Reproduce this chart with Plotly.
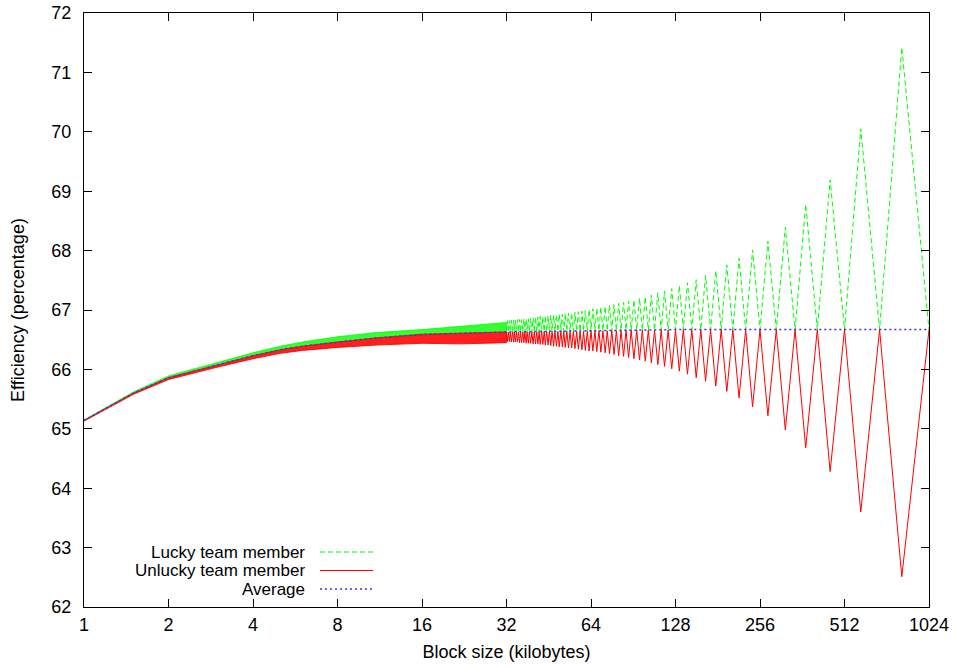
import plotly.graph_objects as go

# ---------------- data ----------------
tick_vals = [1, 2, 4, 8, 16, 32, 64, 128, 256, 512, 1024]
tick_text = ["1", "2", "4", "8", "16", "32", "64", "128", "256", "512", "1024"]

# dense region (1..32 KB): the teeth merge into a band; envelope
band_x = [1, 1.5, 2, 3, 4, 5, 6, 8, 11, 16, 22, 32]
band_avg = [65.14, 65.60, 65.86, 66.08, 66.23, 66.33, 66.39, 66.46, 66.53, 66.59, 66.61, 66.63]
band_upper = [65.15, 65.62, 65.89, 66.12, 66.28, 66.39, 66.46, 66.55, 66.62, 66.67, 66.72, 66.79]
band_lower = [65.13, 65.58, 65.83, 66.04, 66.18, 66.27, 66.32, 66.37, 66.41, 66.44, 66.43, 66.45]

# sparse region (32..1024 KB): points where lucky and unlucky meet the average
meet_x = [32, 32.5, 33.0, 33.6, 34.1, 34.7, 35.3, 35.9, 36.6, 37.2, 37.9, 38.6, 39.4, 40.2,
          41.0, 41.8, 42.7, 43.6, 44.5, 45.5, 46.5, 47.6, 48.8, 50.0, 51.2, 52.5, 53.9, 55.4,
          56.9, 58.5, 60.2, 62.1, 64, 66.1, 68.3, 70.6, 73.1, 75.9, 78.8, 81.9, 85.3, 89.0,
          93.1, 97.5, 102.4, 107.8, 113.8, 120.5, 128, 136.5, 146.3, 157.5, 170.7, 186.2,
          204.8, 227.6, 256, 292.6, 341.3, 409.6, 512, 682.7, 1024]
meet_y = [66.63, 66.63, 66.63, 66.63, 66.63, 66.63, 66.63, 66.63, 66.63, 66.63, 66.63, 66.63,
          66.63, 66.63, 66.63, 66.63, 66.64, 66.64, 66.64, 66.64, 66.64, 66.64, 66.64, 66.64,
          66.64, 66.64, 66.64, 66.64, 66.64, 66.64, 66.64, 66.64, 66.65, 66.65, 66.65, 66.65,
          66.65, 66.65, 66.65, 66.65, 66.66, 66.66, 66.66, 66.66, 66.66, 66.66, 66.66, 66.66,
          66.67, 66.67, 66.67, 66.67, 66.67, 66.67, 66.67, 66.67, 66.67, 66.67, 66.67, 66.67,
          66.67, 66.67, 66.67]
# tooth tips between consecutive meeting points
peak_x = [32.3, 32.8, 33.3, 33.9, 34.4, 35.0, 35.6, 36.2, 36.9, 37.6, 38.3, 39.0, 39.8, 40.6,
          41.4, 42.2, 43.1, 44.0, 45.0, 46.0, 47.1, 48.2, 49.3, 50.6, 51.8, 53.2, 54.6, 56.1,
          57.7, 59.4, 61.1, 63.0, 65.0, 67.1, 69.4, 71.9, 74.5, 77.3, 80.3, 83.6, 87.1, 91.0,
          95.3, 99.9, 105.0, 110.7, 117.0, 124.1, 132.1, 141.2, 151.7, 163.8, 178.1, 195.0,
          215.6, 240.9, 273.1, 315.1, 372.4, 455.1, 585.1, 819.2]
lucky_peak = [66.82, 66.82, 66.83, 66.83, 66.83, 66.84, 66.84, 66.84, 66.85, 66.85, 66.85,
              66.86, 66.87, 66.88, 66.88, 66.89, 66.89, 66.90, 66.90, 66.91, 66.91, 66.92,
              66.93, 66.93, 66.94, 66.95, 66.95, 66.96, 66.97, 66.98, 66.99, 67.01, 67.02,
              67.03, 67.05, 67.06, 67.08, 67.09, 67.11, 67.13, 67.15, 67.17, 67.20, 67.22,
              67.25, 67.29, 67.32, 67.36, 67.41, 67.46, 67.51, 67.58, 67.66, 67.76, 67.87,
              68.01, 68.16, 68.39, 68.78, 69.19, 70.05, 71.42]
unlucky_trough = [66.47, 66.47, 66.46, 66.46, 66.46, 66.46, 66.45, 66.45, 66.45, 66.44, 66.44,
                  66.44, 66.43, 66.43, 66.43, 66.42, 66.42, 66.41, 66.41, 66.40, 66.39, 66.39,
                  66.38, 66.38, 66.37, 66.36, 66.36, 66.35, 66.34, 66.33, 66.32, 66.31, 66.31,
                  66.30, 66.29, 66.28, 66.26, 66.25, 66.23, 66.22, 66.20, 66.18, 66.16, 66.14,
                  66.11, 66.08, 66.05, 66.01, 65.97, 65.92, 65.86, 65.80, 65.72, 65.63, 65.52,
                  65.37, 65.22, 64.98, 64.68, 64.28, 63.60, 62.51]

avg_tail_x = [64, 128, 1024]
avg_tail_y = [66.65, 66.67, 66.67]

legend_labels = ["Lucky team member", "Unlucky team member", "Average"]

# ---------------- assemble ----------------
GREEN = "#00ff00"
RED = "#ff0000"
BLUE = "#3333ff"
FONT = "Liberation Sans, Arial, Helvetica, sans-serif"

lucky_x, lucky_y, unl_x, unl_y = [], [], [], []
for i in range(len(peak_x)):
    lucky_x += [meet_x[i], peak_x[i]]
    lucky_y += [meet_y[i], lucky_peak[i]]
    unl_x += [meet_x[i], peak_x[i]]
    unl_y += [meet_y[i], unlucky_trough[i]]
lucky_x.append(meet_x[-1]); lucky_y.append(meet_y[-1])
unl_x.append(meet_x[-1]); unl_y.append(meet_y[-1])

fig = go.Figure()

# dense band: lucky part above the average, unlucky part below
fig.add_trace(go.Scatter(
    x=band_x + band_x[::-1], y=band_upper + band_avg[::-1],
    fill="toself", fillcolor="rgba(0,255,0,0.8)", mode="lines",
    line=dict(color="rgba(0,255,0,0.8)", width=1), showlegend=False, hoverinfo="skip"))
fig.add_trace(go.Scatter(
    x=band_x + band_x[::-1], y=band_avg + band_lower[::-1],
    fill="toself", fillcolor="rgba(255,0,0,0.88)", mode="lines",
    line=dict(color="rgba(255,0,0,0.88)", width=1), showlegend=False, hoverinfo="skip"))

fig.add_trace(go.Scatter(x=lucky_x, y=lucky_y, mode="lines", name=legend_labels[0],
                         line=dict(color=GREEN, width=1, dash="5px,3px"), showlegend=False))
fig.add_trace(go.Scatter(x=unl_x, y=unl_y, mode="lines", name=legend_labels[1],
                         line=dict(color=RED, width=1), showlegend=False))
fig.add_trace(go.Scatter(x=band_x + avg_tail_x, y=band_avg + avg_tail_y, mode="lines",
                         name=legend_labels[2],
                         line=dict(color=BLUE, width=1.5, dash="2px,3px"), showlegend=False))

# ---------------- custom legend (text right-aligned, sample to the right) ----------------
W, H = 954, 668
ML, MR, MT, MB = 84, 25, 13, 61
PW, PH = W - ML - MR, H - MT - MB

def px_x(p):
    return (p - ML) / PW

def px_y(p):
    return (H - MB - p) / PH

rows = [552, 570.5, 589]
styles = [dict(color=GREEN, width=1, dash="5px,3px"),
          dict(color=RED, width=1),
          dict(color=BLUE, width=1.5, dash="2px,3px")]
for lab, ry, st in zip(legend_labels, rows, styles):
    fig.add_annotation(x=px_x(307), y=px_y(ry), xref="paper", yref="paper",
                       text=lab, showarrow=False, xanchor="right", yanchor="middle",
                       font=dict(family=FONT, size=17, color="black"))
    fig.add_shape(type="line", xref="paper", yref="paper",
                  x0=px_x(320), x1=px_x(373), y0=px_y(ry), y1=px_y(ry), line=st)

axis_common = dict(showline=True, linecolor="black", linewidth=1, mirror="ticks",
                   ticks="inside", ticklen=8, tickwidth=1, tickcolor="black",
                   showgrid=False, zeroline=False, automargin=False,
                   tickfont=dict(family=FONT, size=18, color="black"))

fig.update_xaxes(type="log", range=[0, 3.0103], tickvals=tick_vals, ticktext=tick_text,
                 title=dict(text="Block size (kilobytes)", standoff=11,
                            font=dict(family=FONT, size=18, color="black")),
                 ticklabelstandoff=1, **axis_common)
fig.update_yaxes(range=[62, 72], dtick=1, tick0=62,
                 title=dict(text="Efficiency (percentage)", standoff=22,
                            font=dict(family=FONT, size=18, color="black")),
                 ticklabelstandoff=8, **axis_common)

fig.update_layout(width=W, height=H, margin=dict(l=ML, r=MR, t=MT, b=MB),
                  paper_bgcolor="white", plot_bgcolor="white", showlegend=False,
                  font=dict(family=FONT, size=18, color="black"))

fig.write_html("out.html")
